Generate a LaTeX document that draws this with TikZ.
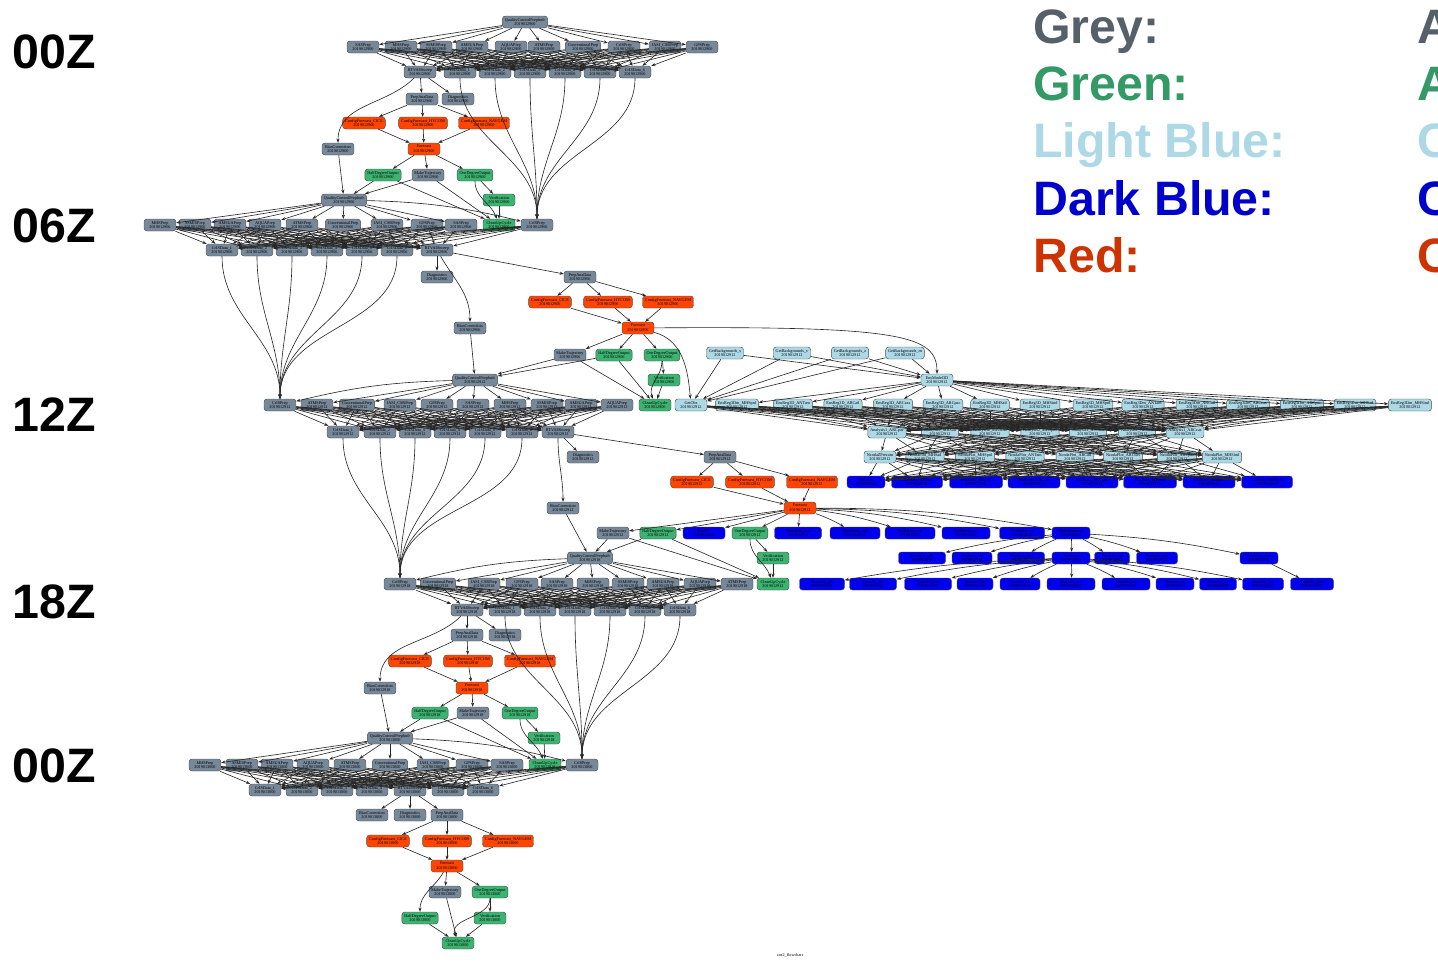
\documentclass[tikz,border=0pt]{standalone}
\usepackage{fontspec}
\setmainfont{Liberation Serif}
\newfontfamily\keyfont{Liberation Sans}
\usetikzlibrary{arrows.meta}
\definecolor{jobgrey}{HTML}{778899}
\definecolor{jobred}{HTML}{FF4500}
\definecolor{jobgreen}{HTML}{3CB371}
\definecolor{jobltblue}{HTML}{ADD8E6}
\definecolor{jobdkblue}{HTML}{0000EE}
\definecolor{keygrey}{HTML}{56606B}
\definecolor{keygreen}{HTML}{339966}
\definecolor{keyltblue}{HTML}{ADD8E6}
\definecolor{keydkblue}{HTML}{0000CC}
\definecolor{keyred}{HTML}{CC3300}
\tikzset{job/.style={draw=black!70,line width=0.25pt,rounded corners=1.7pt,minimum width=0.64cm,
           minimum height=0.24cm,inner xsep=1.4pt,inner ysep=0.3pt,align=center,
           font=\fontsize{2.4}{2.7}\selectfont},
         greyjob/.style={job,fill=jobgrey},
         redjob/.style={job,fill=jobred},
         greenjob/.style={job,fill=jobgreen},
         ltbluejob/.style={job,fill=jobltblue},
         dkbluejob/.style={job,fill=jobdkblue},
         dep/.style={-{Stealth[length=2.4pt,width=1.8pt]},line width=0.35pt,draw=black!85},
         keylabel/.style={anchor=base west,inner sep=0pt,font=\keyfont\bfseries\fontsize{27.5}{30}\selectfont}
}

\begin{document}
\begin{tikzpicture}[x=0.02cm,y=0.02cm]
  \useasboundingbox (0,0) rectangle (1438,-964);

  % cycle hours on the left
  \node[keylabel] (h00) at (12,-68) {00Z};
  \node[keylabel] (h06) at (12,-242) {06Z};
  \node[keylabel] (h12) at (12,-431) {12Z};
  \node[keylabel] (h18) at (12,-618) {18Z};
  \node[keylabel] (h24) at (12,-782) {00Z};

  % colour key
  \foreach \n/\lbl/\col/\y in {1/Grey/keygrey/43,2/Green/keygreen/100,3/Light Blue/keyltblue/157,4/Dark Blue/keydkblue/215,5/Red/keyred/272}
    \node[keylabel,text=\col] (key\n) at (1033,-\y) {\lbl:};
  \foreach \n/\lbl/\col/\y in {1/A/keygrey/43,2/A/keygreen/100,3/C/keyltblue/157,4/C/keydkblue/215,5/C/keyred/272}
    \node[keylabel,text=\col] (keyr\n) at (1417,-\y) {\lbl};

  % ---- 2019012900
  \node[greyjob] (aqc) at (525,-22) {QualityControlPrepbufr\\2019012900};
  \foreach \i/\x/\lbl in {1/363/SASPrep,2/401/MHSPrep,3/436/SSMISPrep,4/472/AMSUAPrep,5/511/AQUAPrep,6/544/ATMSPrep,7/583/ConventionalPrep,8/665/IASI\_CSRPrep,9/702/GPSPrep}
    \node[greyjob] (ap\i) at (\x,-47) {\lbl\\2019012900};
  \node[greyjob] (acr) at (624,-47) {CrISPrep\\2019012900};
  \node[greyjob] (artv) at (420,-72) {RTVAllSweep\\2019012900};
  \foreach \i/\x in {1/460,2/495,3/530,4/565,5/600,6/635}
    \node[greyjob] (ad\i) at (\x,-72) {CrISData\_\i\\2019012900};
  \node[greyjob] (apa) at (422,-99) {PrepAnaData\\2019012900};
  \node[greyjob] (adg) at (458,-99) {Diagnostics\\2019012900};
  \foreach \i/\x/\lbl in {1/364/CICE,2/423/HYCOM,3/484/NAVGEM}
    \node[redjob] (acf\i) at (\x,-123) {ConfigForecast\_\lbl\\2019012900};
  \node[greyjob] (abc) at (338,-149) {BiasCorrection\\2019012900};
  \node[redjob] (afc) at (424,-149) {Forecast\\2019012900};
  \node[greenjob] (ahd) at (383,-175) {HalfDegreeOutput\\2019012900};
  \node[greyjob] (amt) at (428,-175) {MakeTrajectory\\2019012900};
  \node[greenjob] (aod) at (475,-175) {OneDegreeOutput\\2019012900};
  \node[greenjob] (avf) at (499,-200) {Verification\\2019012900};
  \node[greenjob] (acu) at (499,-225) {CleanUpCycle\\2019012900};

  % ---- 2019012906
  \node[greyjob] (bqc) at (344,-200) {QualityControlPrepbufr\\2019012906};
  \foreach \i/\x/\lbl in {1/160/MHSPrep,2/195/SSMISPrep,3/230/AMSUAPrep,4/265/AQUAPrep,5/302/ATMSPrep,6/343/ConventionalPrep,7/387/IASI\_CSRPrep,8/427/GPSPrep,9/461/SASPrep}
    \node[greyjob] (bp\i) at (\x,-225) {\lbl\\2019012906};
  \node[greyjob] (bcr) at (537,-225) {CrISPrep\\2019012906};
  \foreach \i/\x in {1/222,2/257,3/292,4/327,5/362,6/397}
    \node[greyjob] (bd\i) at (\x,-250) {CrISData\_\i\\2019012906};
  \node[greyjob] (brtv) at (437,-250) {RTVAllSweep\\2019012906};
  \node[greyjob] (bdg) at (437,-277) {Diagnostics\\2019012906};
  \node[greyjob] (bpa) at (580,-277) {PrepAnaData\\2019012906};
  \foreach \i/\x/\lbl in {1/550/CICE,2/608/HYCOM,3/668/NAVGEM}
    \node[redjob] (bcf\i) at (\x,-302) {ConfigForecast\_\lbl\\2019012906};
  \node[greyjob] (bbc) at (470,-328) {BiasCorrection\\2019012906};
  \node[redjob] (bfc) at (638,-328) {Forecast\\2019012906};
  \node[greyjob] (bmt) at (570,-355) {MakeTrajectory\\2019012906};
  \node[greenjob] (bhd) at (614,-355) {HalfDegreeOutput\\2019012906};
  \node[greenjob] (bod) at (662,-355) {OneDegreeOutput\\2019012906};
  \node[greenjob] (bvf) at (664,-380) {Verification\\2019012906};
  \node[greenjob] (bcu) at (655,-405) {CleanUpCycle\\2019012906};

  % ---- 2019012912
  \node[greyjob] (cqc) at (475,-380) {QualityControlPrepbufr\\2019012912};
  \node[greyjob] (ccr) at (280,-405) {CrISPrep\\2019012912};
  \foreach \i/\x/\lbl in {1/317/ATMSPrep,2/357/ConventionalPrep,3/400/IASI\_CSRPrep,4/437/GPSPrep,5/473/SASPrep,6/510/MHSPrep,7/547/SSMISPrep,8/581/AMSUAPrep,9/617/AQUAPrep}
    \node[greyjob] (cp\i) at (\x,-405) {\lbl\\2019012912};
  \foreach \i/\x in {1/343,2/380,3/415,4/450,5/485,6/522}
    \node[greyjob] (cd\i) at (\x,-432) {CrISData\_\i\\2019012912};
  \node[greyjob] (crtv) at (558,-432) {RTVAllSweep\\2019012912};
  \node[greyjob] (cdg) at (583,-457) {Diagnostics\\2019012912};
  \node[greyjob] (cpa) at (720,-457) {PrepAnaData\\2019012912};
  \foreach \i/\x/\lbl in {1/692/CICE,2/750/HYCOM,3/812/NAVGEM}
    \node[redjob] (ccf\i) at (\x,-482) {ConfigForecast\_\lbl\\2019012912};
  \node[greyjob] (cbc) at (563,-508) {BiasCorrection\\2019012912};
  \node[redjob] (cfc) at (800,-508) {Forecast\\2019012912};
  \node[greyjob] (cmt) at (613,-533) {MakeTrajectory\\2019012912};
  \node[greenjob] (chd) at (658,-533) {HalfDegreeOutput\\2019012912};
  \node[greenjob] (cod) at (750,-533) {OneDegreeOutput\\2019012912};
  \node[greenjob] (cvf) at (773,-558) {Verification\\2019012912};
  \node[greenjob] (ccu) at (773,-584) {CleanUpCycle\\2019012912};

  % ocean analysis jobs
  \foreach \i/\x/\lbl in {1/725/s,2/792/v,3/850/z,4/905/m}
    \node[ltbluejob] (cgb\i) at (\x,-353) {GetBackgrounds\_\lbl\\2019012912};
  \node[ltbluejob] (cem) at (937,-380) {EnsModel3D\\2019012912};
  \node[ltbluejob] (cgo) at (691,-405) {GetObs\\2019012912};
  \foreach \i/\x/\lbl in {1/737/EnsReg3Dm\_MHSpnl,2/793/EnsReg3D\_ANTam,3/843/EnsReg3D\_ARCatl,4/893/EnsReg3D\_ARCcas,
                          5/943/EnsReg3D\_ARCpac,6/990/EnsReg3D\_MHSatl,7/1040/EnsReg3D\_MHSind,8/1093/EnsReg3D\_MHSpnl,
                          9/1143/EnsReg3Dm\_ANTam,10/1197/EnsReg3Dm\_ARCatl,11/1248/EnsReg3Dm\_ARCcas,
                          12/1302/EnsReg3Dm\_ARCpac,13/1355/EnsReg3Dm\_MHSatl,14/1410/EnsReg3Dm\_MHSind}
    \node[ltbluejob] (cer\i) at (\x,-405) {\lbl\\2019012912};
  \foreach \i/\x/\lbl in {1/887/Analysis1\_ARCpac,2/940/Analysis2\_MHSatl,3/990/Analysis2\_MHSind,4/1040/Analysis2\_MHSpnl,
                          5/1088/Analysis1\_ANTam,6/1137/Analysis1\_ARCatl,7/1185/Analysis1\_ARCcas}
    \node[ltbluejob] (can\i) at (\x,-432) {\lbl\\2019012912};
  \foreach \i/\x/\lbl in {1/880/NcodaZPrecam,2/925/NcodaPlot\_MHSatl,3/975/NcodaPlot\_MHSpnl,4/1025/NcodaPlot\_ANTam,
                          5/1075/NcodaPlot\_ARCatl,6/1123/NcodaPlot\_ARCcas,7/1177/NcodaPlot\_ARCpac,8/1222/NcodaPlot\_MHSind}
    \node[ltbluejob] (cnp\i) at (\x,-457) {\lbl\\2019012912};

  % product jobs
  \foreach \i/\x/\w/\lbl in {1/866/38/PlotStats,2/917/51/PlotStats\_ANTam,3/976/53/PlotStats\_ARCatl,4/1034/52/PlotStats\_ARCcas,
                             5/1092/52/PlotStats\_ARCpac,6/1150/53/PlotStats\_MHSatl,7/1209/52/PlotStats\_MHSind,8/1267/51/PlotStats\_MHSpnl}
    \node[dkbluejob,minimum width=\w*0.02cm] (cb\i) at (\x,-482) {\lbl\\2019012912};
  \foreach \i/\x/\w/\lbl in {1/704/42/PlotSST,2/798/47/PlotFields\_ice,3/855/50/PlotFields\_ssh,4/910/50/PlotFields\_sst,
                             5/966/48/PlotFields\_uv,6/1022/45/PlotFields\_ts,7/1071/38/MakeProducts}
    \node[dkbluejob,minimum width=\w*0.02cm] (cc\i) at (\x,-533) {\lbl\\2019012912};
  \foreach \i/\x/\w/\lbl in {1/922/47/Products\_glb,2/972/40/Products\_nh,3/1021/47/Products\_arc,4/1071/38/Products,
                             5/1112/35/Products\_sh,6/1157/41/Products\_ant,7/1259/38/Products\_web}
    \node[dkbluejob,minimum width=\w*0.02cm] (cl\i) at (\x,-558) {\lbl\\2019012912};
  \foreach \i/\x/\w/\lbl in {1/822/45/Transfer\_glb,2/873/47/Transfer\_ice,3/928/47/Transfer\_ssh,4/975/36/Transfer\_nh,
                             5/1020/40/Transfer\_sh,6/1071/48/Transfer\_arc,7/1126/48/Transfer\_ant,8/1175/38/Transfer\_ts,
                             9/1218/37/Transfer\_uv,10/1263/41/Transfer\_sst,11/1312/43/Transfer\_web}
    \node[dkbluejob,minimum width=\w*0.02cm] (cm\i) at (\x,-584) {\lbl\\2019012912};

  % ---- 2019012918
  \node[greyjob] (dqc) at (590,-558) {QualityControlPrepbufr\\2019012918};
  \node[greyjob] (dcr) at (400,-584) {CrISPrep\\2019012918};
  \foreach \i/\x/\lbl in {1/438/ConventionalPrep,2/484/IASI\_CSRPrep,3/522/GPSPrep,4/557/SASPrep,5/593/MHSPrep,6/628/SSMISPrep,7/663/AMSUAPrep,8/700/AQUAPrep,9/737/ATMSPrep}
    \node[greyjob] (dp\i) at (\x,-584) {\lbl\\2019012918};
  \node[greyjob] (drtv) at (467,-610) {RTVAllSweep\\2019012918};
  \foreach \i/\x in {1/505,2/540,3/575,4/610,5/645,6/680}
    \node[greyjob] (dd\i) at (\x,-610) {CrISData\_\i\\2019012918};
  \node[greyjob] (dpa) at (467,-635) {PrepAnaData\\2019012918};
  \node[greyjob] (ddg) at (505,-635) {Diagnostics\\2019012918};
  \foreach \i/\x/\lbl in {1/410/CICE,2/468/HYCOM,3/530/NAVGEM}
    \node[redjob] (dcf\i) at (\x,-661) {ConfigForecast\_\lbl\\2019012918};
  \node[greyjob] (dbc) at (380,-688) {BiasCorrection\\2019012918};
  \node[redjob] (dfc) at (472,-688) {Forecast\\2019012918};
  \node[greenjob] (dhd) at (430,-713) {HalfDegreeOutput\\2019012918};
  \node[greyjob] (dmt) at (473,-713) {MakeTrajectory\\2019012918};
  \node[greenjob] (dod) at (520,-713) {OneDegreeOutput\\2019012918};
  \node[greenjob] (dvf) at (544,-738) {Verification\\2019012918};
  \node[greenjob] (dcu) at (545,-765) {CleanUpCycle\\2019012918};

  % ---- 2019013000
  \node[greyjob] (eqc) at (390,-738) {QualityControlPrepbufr\\2019013000};
  \foreach \i/\x/\lbl in {1/205/MHSPrep,2/242/SSMISPrep,3/277/AMSUAPrep,4/313/AQUAPrep,5/350/ATMSPrep,6/390/ConventionalPrep,7/433/IASI\_CSRPrep,8/472/GPSPrep,9/507/SASPrep}
    \node[greyjob] (ep\i) at (\x,-765) {\lbl\\2019013000};
  \node[greyjob] (ecr) at (582,-765) {CrISPrep\\2019013000};
  \foreach \i/\x in {1/265,2/302,3/337,4/372,5/448,6/483}
    \node[greyjob] (ed\i) at (\x,-790) {CrISData\_\i\\2019013000};
  \node[greyjob] (ertv) at (410,-790) {RTVAllSweep\\2019013000};
  \node[greyjob] (ebc) at (372,-815) {BiasCorrection\\2019013000};
  \node[greyjob] (edg) at (410,-815) {Diagnostics\\2019013000};
  \node[greyjob] (epa) at (447,-815) {PrepAnaData\\2019013000};
  \foreach \i/\x/\lbl in {1/388/CICE,2/447/HYCOM,3/508/NAVGEM}
    \node[redjob] (ecf\i) at (\x,-841) {ConfigForecast\_\lbl\\2019013000};
  \node[redjob] (efc) at (447,-866) {Forecast\\2019013000};
  \node[greyjob] (emt) at (445,-892) {MakeTrajectory\\2019013000};
  \node[greenjob] (eod) at (490,-892) {OneDegreeOutput\\2019013000};
  \node[greenjob] (ehd) at (420,-918) {HalfDegreeOutput\\2019013000};
  \node[greenjob] (evf) at (490,-918) {Verification\\2019013000};
  \node[greenjob] (ecu) at (458,-943) {CleanUpCycle\\2019013000};

  \node[font=\fontsize{2.4}{2.7}\selectfont] (title) at (790,-955) {cos2\_flowchart};

  % dependencies inside each cycle
  \foreach \cyc in {a,b,c,d,e} {
    \foreach \src in {p1,p2,p3,p4,p5,p6,p7,p8,p9}
      \draw[dep] (\cyc qc) -- (\cyc\src);
    \foreach \src in {p1,p2,p3,p4,p5,p6,p7,p8,p9,cr}
      \foreach \dst in {d1,d2,d3,d4,d5,d6,rtv}
        \draw[dep] (\cyc\src) -- (\cyc\dst);
    \draw[dep] (\cyc rtv) -- (\cyc pa);
    \draw[dep] (\cyc rtv) -- (\cyc dg);
    \foreach \k in {1,2,3} {
      \draw[dep] (\cyc pa) -- (\cyc cf\k);
      \draw[dep] (\cyc cf\k) -- (\cyc fc);
    }
    \draw[dep] (\cyc fc) -- (\cyc mt);
    \draw[dep] (\cyc fc) -- (\cyc od);
    \draw[dep] (\cyc od) -- (\cyc vf);
    \draw[dep] (\cyc vf) -- (\cyc cu);
    \draw[dep] (\cyc hd) -- (\cyc cu);
    \draw[dep] (\cyc mt) -- (\cyc cu);
    \draw[dep] (\cyc od) to[out=270,in=110] (\cyc cu);
  }
  \foreach \cyc in {a,b,c,d}
    \draw[dep] (\cyc fc) -- (\cyc hd);
  \draw[dep] (efc) to[out=240,in=90] (ehd);

  \draw[dep] (aqc) -- (acr);
  \draw[dep] (bqc) to[bend left=6] (bcr);
  \draw[dep] (cqc) to[bend right=6] (ccr);
  \draw[dep] (dqc) to[bend right=6] (dcr);
  \draw[dep] (eqc) to[bend left=6] (ecr);

  \draw[dep] (artv) to[out=225,in=90] (abc);
  \draw[dep] (brtv) to[out=300,in=90] (bbc);
  \draw[dep] (crtv) to[out=270,in=90] (cbc);
  \draw[dep] (drtv) to[out=225,in=90] (dbc);
  \draw[dep] (ertv) -- (ebc);

  % one cycle feeds the next
  \foreach \prv/\nxt in {a/b,b/c,c/d,d/e} {
    \draw[dep] (\prv bc) -- (\nxt qc);
    \draw[dep] (\prv hd) -- (\nxt qc);
    \draw[dep] (\prv mt) -- (\nxt qc);
    \foreach \k in {1,...,6}
      \draw[dep] (\prv d\k) to[out=270,in=90] (\nxt cr);
  }

  % ocean analysis
  \draw[dep] (bfc) .. controls (900,-326) and (937,-335) .. (cem);
  \draw[dep] (bfc) to[out=-15,in=95] (cgo);
  \foreach \i in {1,...,4} {
    \draw[dep] (cgb\i) -- (cgo);
    \draw[dep] (cgb\i) -- (cem);
  }
  \foreach \j in {1,...,14}
    \draw[dep] (cem) -- (cer\j);
  \foreach \k in {1,...,7}
    \draw[dep] (cgo) -- (can\k);
  \foreach \j in {1,...,14}
    \foreach \k in {1,...,7}
      \draw[dep] (cer\j) -- (can\k);
  \foreach \k in {1,...,7}
    \foreach \m in {1,...,8}
      \draw[dep] (can\k) -- (cnp\m);
  \foreach \m in {1,...,8}
    \foreach \n in {1,...,8}
      \draw[dep] (cnp\m) -- (cb\n);

  % products
  \draw[dep] (cfc) -- (cc1);
  \draw[dep] (cfc) -- (cc2);
  \foreach \n in {3,...,7}
    \draw[dep] (cfc) to[bend left=5] (cc\n);
  \foreach \n in {1,2,3}
    \draw[dep] (cc7) to[bend right=4] (cl\n);
  \foreach \n in {4,...,7}
    \draw[dep] (cc7) to[bend left=4] (cl\n);
  \foreach \n in {1,...,5}
    \draw[dep] (cl4) to[bend right=4] (cm\n);
  \foreach \n in {6,...,10}
    \draw[dep] (cl4) to[bend left=4] (cm\n);
  \draw[dep] (cl7) -- (cm11);
\end{tikzpicture}
\end{document}
